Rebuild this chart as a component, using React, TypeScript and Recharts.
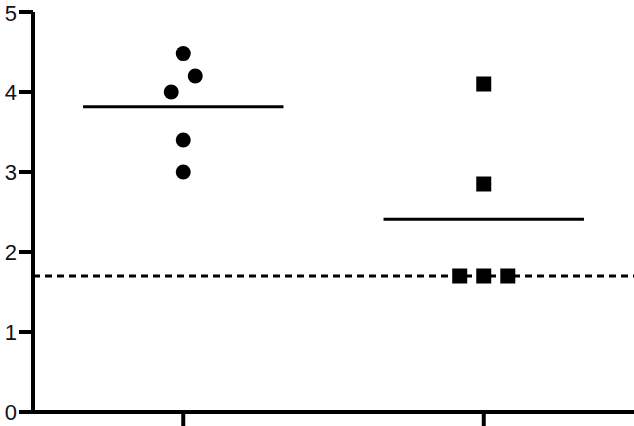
import React from 'react';
import { ScatterChart, Scatter, XAxis, YAxis, ReferenceLine } from 'recharts';

// group positions on the x axis (1 = circles, 3 = squares), with small jitter
const circleX = [1, 1.08, 0.92, 1, 1];
const circleY = [4.48, 4.2, 4.0, 3.4, 3.0];

const squareX = [3, 3, 2.84, 3, 3.16];
const squareY = [4.1, 2.85, 1.7, 1.7, 1.7];

const yTicks = [0, 1, 2, 3, 4, 5];
const groupTicks = [1, 3];
const threshold = 1.7;

const circles = circleX.map((x, i) => ({ x, y: circleY[i] }));
const squares = squareX.map((x, i) => ({ x, y: squareY[i] }));

const mean = (vals: number[]) => vals.reduce((a, b) => a + b, 0) / vals.length;

const CircleDot = (props: any) => <circle cx={props.cx} cy={props.cy} r={7.5} fill="#000" />;
const SquareDot = (props: any) => (
  <rect x={props.cx - 7.5} y={props.cy - 7.5} width={15} height={15} fill="#000" />
);

export default function App() {
  return (
    <div style={{ position: 'absolute', left: 0, top: 0, background: '#fff' }}>
      <ScatterChart width={634} height={426} margin={{ top: 12, right: 0, bottom: 0, left: 0 }}>
        <XAxis
          type="number"
          dataKey="x"
          domain={[0, 4]}
          ticks={groupTicks}
          tickFormatter={() => ''}
          height={14}
          tickSize={14}
          axisLine={{ stroke: '#000', strokeWidth: 4 }}
          tickLine={{ stroke: '#000', strokeWidth: 4 }}
        />
        <YAxis
          type="number"
          dataKey="y"
          domain={[0, 5]}
          ticks={yTicks}
          width={33}
          tickSize={14}
          tickMargin={2}
          axisLine={{ stroke: '#000', strokeWidth: 4 }}
          tickLine={{ stroke: '#000', strokeWidth: 4 }}
          tick={{ fill: '#111', fontSize: 22, fontFamily: 'Liberation Sans, Arial, sans-serif' }}
        />
        <ReferenceLine y={threshold} stroke="#000" strokeWidth={3} strokeDasharray="7 5" />
        <ReferenceLine
          segment={[{ x: 1 - 0.667, y: mean(circleY) }, { x: 1 + 0.667, y: mean(circleY) }]}
          stroke="#000"
          strokeWidth={3}
        />
        <ReferenceLine
          segment={[{ x: 3 - 0.667, y: mean(squareY) }, { x: 3 + 0.667, y: mean(squareY) }]}
          stroke="#000"
          strokeWidth={3}
        />
        <Scatter data={circles} shape={CircleDot} isAnimationActive={false} />
        <Scatter data={squares} shape={SquareDot} isAnimationActive={false} />
      </ScatterChart>
    </div>
  );
}
